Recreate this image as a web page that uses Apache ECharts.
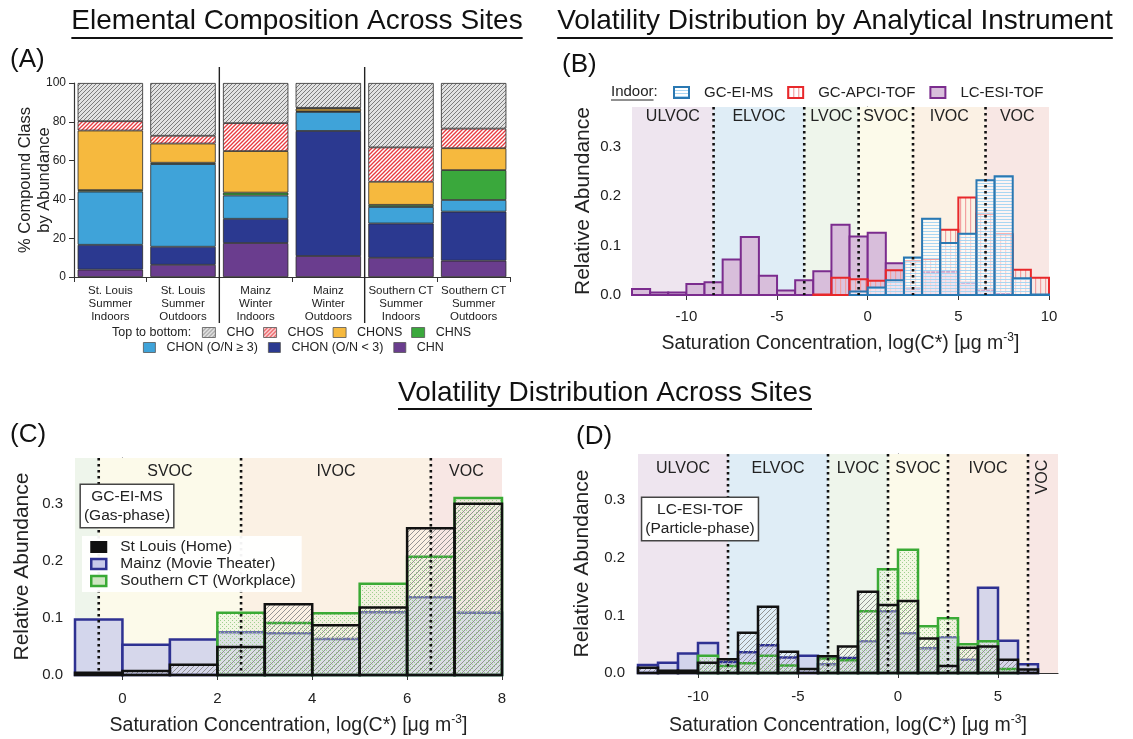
<!DOCTYPE html>
<html><head><meta charset="utf-8">
<script src="https://cdn.jsdelivr.net/npm/echarts@6/dist/echarts.min.js"></script>
<style>html,body{margin:0;padding:0;background:#fff;}#c{width:1133px;height:739px;}</style>
</head><body><div id="c"></div>
<script>
// ---------------- Panel A data (percent by compound class) ----------------
const sitesA = ['St. Louis\nSummer\nIndoors','St. Louis\nSummer\nOutdoors','Mainz\nWinter\nIndoors','Mainz\nWinter\nOutdoors','Southern CT\nSummer\nIndoors','Southern CT\nSummer\nOutdoors'];
const chnA      = [3.8, 6.3, 17.5, 10.8, 9.9, 8.4];
const chonLowA  = [12.8, 9.3, 12.5, 64.5, 17.7, 25.3];
const chonHighA = [27.4, 42.6, 12.0, 9.8, 8.5, 6.0];
const chnsA     = [0.8, 0.7, 1.5, 0.3, 1.1, 15.4];
const chonsA    = [30.7, 9.9, 21.4, 1.4, 11.9, 11.3];
const chosA     = [4.8, 4.0, 14.4, 0.4, 17.7, 10.1];
const choA      = [19.7, 27.2, 20.7, 12.8, 33.2, 23.5];
const sepAfterA = [1, 3];

// ---------------- Panel B data (bins of log C*, width 1) ----------------
const binsB   = [-13,-12,-11,-10,-9,-8,-7,-6,-5,-4,-3,-2,-1,0,1,2,3,4,5,6,7,8,9];
const lcEsiB  = [0.012,0.005,0.005,0.022,0.026,0.072,0.117,0.039,0.009,0.030,0.048,0.142,0.118,0.126,0.064,0.013,0.046,0.047,0.025,0.009,0.002,null,null];
const gcApciB = [null,null,null,null,null,null,null,null,null,null,0.001,0.035,0.032,0.029,0.050,0.068,0.073,0.132,0.197,0.164,0.123,0.051,0.035];
const gcEiB   = [null,null,null,null,null,null,null,null,null,null,null,null,0.007,0.015,0.030,0.076,0.154,0.105,0.124,0.232,0.240,0.034,0.001];
const xTicksB = [-10,-5,0,5,10];

// ---------------- Panel C data ----------------
const binsC     = [-1,0,1,2,3,4,5,6,7];
const stLouisC  = [0.004,0.007,0.018,0.049,0.124,0.087,0.118,0.257,0.300];
const mainzC    = [0.097,0.053,0.062,0.075,0.073,0.063,0.110,0.136,0.109];
const sctC      = [null,null,null,0.109,0.091,0.108,0.160,0.207,0.310];
const xTicksC   = [0,2,4,6,8];

// ---------------- Panel D data ----------------
const binsD     = [-13,-12,-11,-10,-9,-8,-7,-6,-5,-4,-3,-2,-1,0,1,2,3,4,5,6];
const mainzD    = [0.014,0.018,0.034,0.052,0.019,0.036,0.048,0.027,0.030,0.015,0.026,0.055,0.107,0.069,0.043,0.062,0.023,0.148,0.056,0.015];
const stLouisD  = [0.009,0.004,0.004,0.018,0.024,0.070,0.115,0.037,0.007,0.029,0.046,0.141,0.118,0.125,0.060,0.012,0.044,0.046,0.023,0.006];
const sctD      = [null,null,null,0.030,0.012,0.017,0.030,0.013,null,0.025,0.022,0.107,0.180,0.214,0.081,0.095,0.050,0.055,0.007,null];
const xTicksD   = [-10,-5,0,5];

const yTicksRel = [0, 0.1, 0.2, 0.3];
const bandNames  = ['ULVOC','ELVOC','LVOC','SVOC','IVOC','VOC'];
const bandBounds = [-8.5,-3.5,-0.5,2.5,6.5];

// ---------------- styling ----------------
const FONT = 'Liberation Sans, Arial, Helvetica, sans-serif';
const BIN_W = 1, Y_MAX = 0.38;
const rangeB = [-13, 10], rangeC = [-1, 8], rangeD = [-13, 8];
const bandColors = ['#eee5ef','#dfedf6','#eef5eb','#fcfaea','#fbf1e4','#f8e7e4'];

function pat(w,h,draw){const c=document.createElement('canvas');c.width=w;c.height=h;const g=c.getContext('2d');draw(g,w,h);return {image:c,repeat:'repeat'};}
function diagPat(s,bg,fg,lw){return pat(s,s,(g)=>{if(bg){g.fillStyle=bg;g.fillRect(0,0,s,s);}g.strokeStyle=fg;g.lineWidth=lw;g.beginPath();g.moveTo(-1,s+1);g.lineTo(s+1,-1);g.moveTo(-1,1);g.lineTo(1,-1);g.moveTo(s-1,s+1);g.lineTo(s+1,s-1);g.stroke();});}
function hPat(s,bg,fg,lw){return pat(s,s,(g)=>{if(bg){g.fillStyle=bg;g.fillRect(0,0,s,s);}g.fillStyle=fg;g.fillRect(0,0,s,lw);});}
function vPat(s,bg,fg,lw){return pat(s,s,(g)=>{if(bg){g.fillStyle=bg;g.fillRect(0,0,s,s);}g.fillStyle=fg;g.fillRect(0,0,lw,s);});}
function dotPat(s,bg,fg){return pat(s,s,(g)=>{if(bg){g.fillStyle=bg;g.fillRect(0,0,s,s);}g.fillStyle=fg;g.fillRect(0,0,1,1);g.fillRect(Math.floor(s/2),Math.floor(s/2),1,1);});}

const choFill  = diagPat(4,'#e2e2e2','#7d7d7d',1);
const chosFill = diagPat(4,'#ffffff','#e8383d',1.3);
const slFill   = diagPat(5,null,'#8a8a8a',0.9);
const sctFill  = dotPat(4,'rgba(226,240,214,0.35)','#9fd08f');
const mzFill   = 'rgba(205,207,236,0.82)';
const eiFill   = hPat(3,'rgba(255,255,255,0.55)','#a9d6f2',1);
const apciFill = vPat(5,'rgba(255,255,255,0.1)','#f2a0a0',1.2);
const lcFill   = '#d8bedb';

const ST = {
  lc:   {fill: lcFill,  stroke:'#7b2c8e', lineWidth:2},
  apci: {fill: apciFill,stroke:'#e8282b', lineWidth:2},
  ei:   {fill: eiFill,  stroke:'#2a78b2', lineWidth:2},
  mz:   {fill: mzFill,  stroke:'#2e3192', lineWidth:2.5},
  sct:  {fill: sctFill, stroke:'#3aaa35', lineWidth:2.5},
  sl:   {fill: slFill,  stroke:'#111111', lineWidth:2.5}
};

function histSeries(name, gi, bins, vals, st, z){
  const data = [];
  bins.forEach((b,i)=>{ if(vals[i]!=null) data.push([b, b+BIN_W, vals[i]]); });
  return {
    type:'custom', name, xAxisIndex:gi, yAxisIndex:gi, z, data,
    dimensions:['x0','x1','y'], encode:{x:[0,1], y:2},
    itemStyle:{color: st.fill, borderColor: st.stroke},
    renderItem:(p, api)=>{
      const a = api.coord([api.value(0), api.value(2)]);
      const b = api.coord([api.value(1), 0]);
      return {type:'rect', shape:{x:a[0], y:a[1], width:b[0]-a[0], height:b[1]-a[1]},
        style:{fill: st.fill, stroke: st.stroke, lineWidth: st.lineWidth}};
    }
  };
}

function bandSeries(gi, range, labelOff){
  const data = [];
  for(let i=0;i<bandNames.length;i++){
    const lo = i===0 ? -Infinity : bandBounds[i-1];
    const hi = i===bandNames.length-1 ? Infinity : bandBounds[i];
    const x0 = Math.max(lo, range[0]), x1 = Math.min(hi, range[1]);
    if(x1 > x0) data.push([x0, x1, i]);
  }
  return {
    type:'custom', name:'_bands'+gi, xAxisIndex:gi, yAxisIndex:gi, z:1, data, silent:true,
    dimensions:['x0','x1','band'], encode:{x:[0,1]},
    renderItem:(p, api)=>{
      const x0 = api.value(0), x1 = api.value(1), idx = api.value(2);
      const a = api.coord([x0, Y_MAX]); const b = api.coord([x1, 0]);
      const children = [{type:'rect', shape:{x:a[0], y:a[1], width:b[0]-a[0], height:b[1]-a[1]}, style:{fill: bandColors[idx]}}];
      const w = b[0]-a[0];
      if(x1 - x0 >= 1){
        const rot = w < 45;
        children.push({type:'text', x:(a[0]+b[0])/2, y: a[1] + (rot ? 23 : labelOff), rotation: rot ? Math.PI/2 : 0,
          style:{text: bandNames[idx], font:'16px '+FONT, fill:'#222', align:'center', verticalAlign:'middle'}});
      }
      return {type:'group', children};
    }
  };
}

function boundSeries(gi, range){
  const data = bandBounds.filter(b=>b>range[0] && b<range[1]).map(b=>[b]);
  return {
    type:'custom', name:'_bounds'+gi, xAxisIndex:gi, yAxisIndex:gi, z:6, data, silent:true,
    dimensions:['x'], encode:{x:0},
    renderItem:(p, api)=>{
      const a = api.coord([api.value(0), Y_MAX]); const b = api.coord([api.value(0), 0]);
      return {type:'line', shape:{x1:a[0], y1:a[1], x2:b[0], y2:b[1]},
        style:{stroke:'#111', lineWidth:2.6, lineDash:[2.6,3.4]}};
    }
  };
}

const sepSeriesA = {
  type:'custom', name:'_sepA', xAxisIndex:0, yAxisIndex:0, z:6, silent:true,
  data: sepAfterA.map(i=>[i, 0]),
  renderItem:(p, api)=>{
    const c = api.coord([api.value(0), 0]);
    const t = api.coord([api.value(0), 100]);
    const bw = api.size([1, 0])[0];
    const x = c[0] + bw/2;
    return {type:'line', shape:{x1:x, y1:t[1]-16, x2:x, y2:c[1]+46}, style:{stroke:'#222', lineWidth:1.4}};
  }
};

// ---------------- axes ----------------
const axisCommon = {
  axisLine:{show:true, lineStyle:{color:'#333', width:1.2}},
  axisTick:{show:true, length:5, lineStyle:{color:'#333'}},
  splitLine:{show:false}
};
const xName = 'Saturation Concentration, log(C*) [μg m{sup|-3}]';
const xNameStyle = {fontSize:19.5, fontFamily:FONT, color:'#222', lineHeight:24,
  rich:{sup:{fontSize:12, fontFamily:FONT, color:'#222', verticalAlign:'top', lineHeight:24, padding:[0,0,7,0]}}};

function relYAxis(gi, gap, margin){
  return Object.assign({}, axisCommon, {
    type:'value', gridIndex:gi, min:0, max:Y_MAX,
    axisTick:{show:true, length:5, lineStyle:{color:'#333'}, customValues: yTicksRel},
    axisLabel:{customValues: yTicksRel, formatter:v=>v.toFixed(1), fontSize:15, fontFamily:FONT, color:'#222', margin},
    name:'Relative Abundance', nameLocation:'middle', nameGap:gap, nameMoveOverlap:false,
    nameTextStyle:{fontSize:21, fontFamily:FONT, color:'#222'}
  });
}
function satXAxis(gi, range, ticks, gap, margin){
  return Object.assign({}, axisCommon, {
    type:'value', gridIndex:gi, min:range[0], max:range[1],
    axisTick:{show:true, length:5, lineStyle:{color:'#333'}, customValues: ticks},
    axisLabel:{customValues: ticks, fontSize:15, fontFamily:FONT, color:'#222', margin},
    name:xName, nameLocation:'middle', nameGap:gap, nameMoveOverlap:false, nameTextStyle:xNameStyle
  });
}

// ---------------- panel A series ----------------
const aBorder = {borderColor:'#2a2a2a', borderWidth:0.8};
const stackDefs = [
  ['CHN', chnA, '#6a3d8e'],
  ['CHON (O/N < 3)', chonLowA, '#2b3990'],
  ['CHON (O/N ≥ 3)', chonHighA, '#3fa3d9'],
  ['CHNS', chnsA, '#3aa83c'],
  ['CHONS', chonsA, '#f6b93e'],
  ['CHOS', chosA, chosFill],
  ['CHO', choA, choFill]
];
const aSeries = stackDefs.map(d=>({
  type:'bar', name:d[0], xAxisIndex:0, yAxisIndex:0, stack:'A', data:d[1], barCategoryGap:'10%', z:3,
  itemStyle:Object.assign({color:d[2]}, aBorder)
}));
function legItem(name, color, border, bw){ return {name, icon:'rect', itemStyle:{color, borderColor:border, borderWidth:bw}}; }

const chart = echarts.init(document.getElementById('c'), null, {renderer:'canvas'});

// text measuring for underlines
const mctx = document.createElement('canvas').getContext('2d');
function tw(txt, font){ mctx.font = font; return mctx.measureText(txt).width; }
const TF = '28px ' + FONT;
const titles = [
  {t:'Elemental Composition Across Sites', x:297, y:21, uy:38},
  {t:'Volatility Distribution by Analytical Instrument', x:835, y:21, uy:38},
  {t:'Volatility Distribution Across Sites', x:605, y:393, uy:409}
];
const graphics = [];
titles.forEach(o=>{
  const w = tw(o.t, TF);
  graphics.push({type:'text', x:o.x, y:o.y, z:10, style:{text:o.t, font:TF, fill:'#111', align:'center', verticalAlign:'middle'}});
  graphics.push({type:'line', z:10, shape:{x1:o.x-w/2, y1:o.uy, x2:o.x+w/2, y2:o.uy}, style:{stroke:'#111', lineWidth:1.8}});
});
[['(A)',10,60],['(B)',562,65],['(C)',10,435],['(D)',576,437]].forEach(l=>{
  graphics.push({type:'text', x:l[1], y:l[2], z:10, style:{text:l[0], font:'26px '+FONT, fill:'#111', align:'left', verticalAlign:'middle'}});
});
graphics.push({type:'text', x:112, y:333, z:10, style:{text:'Top to bottom:', font:'12.5px '+FONT, fill:'#222', align:'left', verticalAlign:'middle'}});
const indW = tw('Indoor', '15px '+FONT);
graphics.push({type:'text', x:611, y:92, z:10, style:{text:'Indoor:', font:'15px '+FONT, fill:'#222', align:'left', verticalAlign:'middle'}});
graphics.push({type:'line', z:10, shape:{x1:611, y1:100, x2:611+indW, y2:100}, style:{stroke:'#222', lineWidth:1}});
graphics.push({type:'text', x:127, y:506, z:20, style:{text:'GC-EI-MS\n(Gas-phase)', font:'15.5px '+FONT, lineHeight:19, fill:'#222', align:'center', verticalAlign:'middle', backgroundColor:'#fff', borderColor:'#444', borderWidth:1.5, padding:[2,3,2,3]}});
graphics.push({type:'text', x:700, y:519, z:20, style:{text:'LC-ESI-TOF\n(Particle-phase)', font:'15.5px '+FONT, lineHeight:19, fill:'#222', align:'center', verticalAlign:'middle', backgroundColor:'#fff', borderColor:'#444', borderWidth:1.5, padding:[2,3,2,3]}});

const option = {
  animation:false,
  backgroundColor:'#ffffff',
  textStyle:{fontFamily:FONT},
  grid:[
    {left:74, top:83, width:436, height:194},
    {left:632, top:107, width:417, height:188},
    {left:75, top:458, width:427, height:218},
    {left:638, top:454, width:420, height:220}
  ],
  xAxis:[
    Object.assign({}, axisCommon, {type:'category', gridIndex:0, data:sitesA,
      axisTick:{show:true, length:5, interval:0, lineStyle:{color:'#333'}},
      axisLabel:{interval:0, fontSize:11.5, lineHeight:13, fontFamily:FONT, color:'#222', margin:7}}),
    satXAxis(1, rangeB, xTicksB, 37, 14),
    satXAxis(2, rangeC, xTicksC, 39, 16),
    satXAxis(3, rangeD, xTicksD, 41, 16)
  ],
  yAxis:[
    Object.assign({}, axisCommon, {type:'value', gridIndex:0, min:0, max:100, interval:20,
      axisLabel:{fontSize:12, fontFamily:FONT, color:'#222', margin:8},
      name:'% Compound Class\nby Abundance', nameLocation:'middle', nameGap:20, nameMoveOverlap:false,
      nameTextStyle:{fontSize:16.5, lineHeight:19, fontFamily:FONT, color:'#222', align:'center'}}),
    relYAxis(1, 38, 11),
    relYAxis(2, 42, 12),
    relYAxis(3, 45, 13)
  ],
  legend:[
    {left:202, top:326, padding:0, itemWidth:13, itemHeight:10, itemGap:9, selectedMode:false,
     textStyle:{fontSize:12.5, fontFamily:FONT, color:'#222', padding:[0,0,0,6]},
     data:[legItem('CHO', choFill,'#555',0.8), legItem('CHOS', chosFill,'#555',0.8), legItem('CHONS','#f6b93e','#555',0.8), legItem('CHNS','#3aa83c','#555',0.8)]},
    {left:143, top:341, padding:0, itemWidth:12, itemHeight:10, itemGap:10, selectedMode:false,
     textStyle:{fontSize:12.5, fontFamily:FONT, color:'#222', padding:[0,0,0,6]},
     data:[legItem('CHON (O/N ≥ 3)','#3fa3d9','#555',0.8), legItem('CHON (O/N < 3)','#2b3990','#555',0.8), legItem('CHN','#6a3d8e','#555',0.8)]},
    {left:673, top:85, padding:0, itemWidth:15, itemHeight:11, itemGap:14, selectedMode:false,
     textStyle:{fontSize:15, fontFamily:FONT, color:'#222', padding:[0,0,0,10]},
     data:[legItem('GC-EI-MS', eiFill,'#2a78b2',2), legItem('GC-APCI-TOF', apciFill,'#e8282b',2), legItem('LC-ESI-TOF', lcFill,'#7b2c8e',2)]},
    {left:82, top:536, orient:'vertical', padding:[3,6,3,8], itemWidth:15, itemHeight:10, itemGap:1, selectedMode:false,
     backgroundColor:'rgba(255,255,255,0.95)', z:15,
     textStyle:{fontSize:15.5, fontFamily:FONT, color:'#222', padding:[0,0,0,9]},
     data:[legItem('St Louis (Home)','#111','#111',2), legItem('Mainz (Movie Theater)','#c8c9ea','#2e3192',2.5), legItem('Southern CT (Workplace)','#cfe6c2','#3aaa35',2.5)]}
  ],
  graphic: graphics,
  series:[
    ...aSeries,
    sepSeriesA,
    // panel B
    bandSeries(1, rangeB, 10),
    histSeries('LC-ESI-TOF', 1, binsB, lcEsiB, ST.lc, 2),
    histSeries('GC-APCI-TOF', 1, binsB, gcApciB, ST.apci, 3),
    histSeries('GC-EI-MS', 1, binsB, gcEiB, ST.ei, 4),
    boundSeries(1, rangeB),
    // panel C
    bandSeries(2, rangeC, 14),
    histSeries('Mainz (Movie Theater)', 2, binsC, mainzC, ST.mz, 2),
    histSeries('Southern CT (Workplace)', 2, binsC, sctC, ST.sct, 3),
    histSeries('St Louis (Home)', 2, binsC, stLouisC, ST.sl, 4),
    boundSeries(2, rangeC),
    // panel D
    bandSeries(3, rangeD, 15),
    histSeries('Mainz (Movie Theater)', 3, binsD, mainzD, ST.mz, 2),
    histSeries('Southern CT (Workplace)', 3, binsD, sctD, ST.sct, 3),
    histSeries('St Louis (Home)', 3, binsD, stLouisD, ST.sl, 4),
    boundSeries(3, rangeD)
  ]
};
chart.setOption(option);
</script>
</body></html>
